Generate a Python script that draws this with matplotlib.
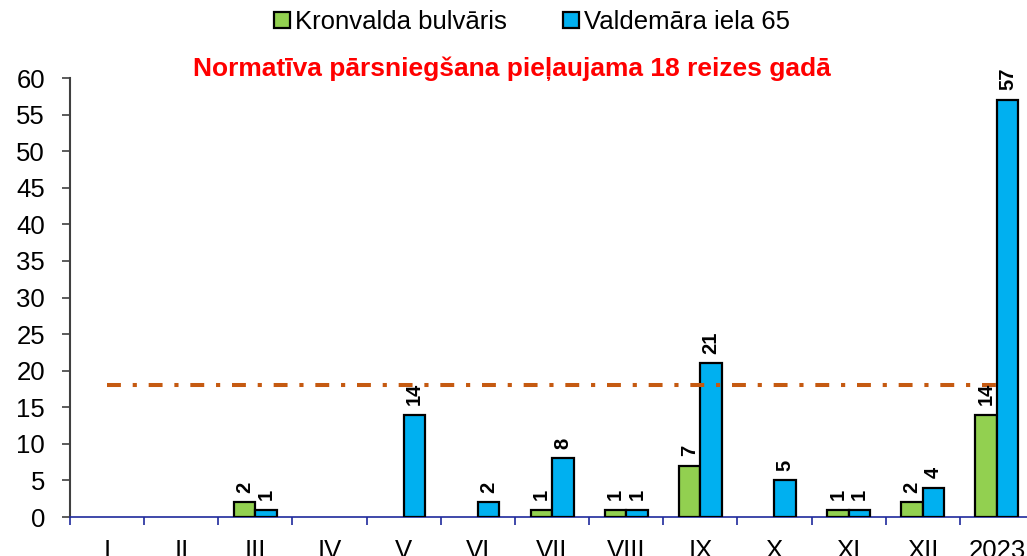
import matplotlib
matplotlib.use('Agg')
import matplotlib.pyplot as plt
from matplotlib.patches import Patch
import numpy as np

plt.rcParams['font.family'] = ['Liberation Sans', 'DejaVu Sans']
plt.rcParams['lines.scale_dashes'] = False

# months + year total
categories = ['I', 'II', 'III', 'IV', 'V', 'VI', 'VII', 'VIII', 'IX', 'X', 'XI', 'XII', '2023']
kronvalda = [0, 0, 2, 0, 0, 0, 1, 1, 7, 0, 1, 2, 14]
valdemara = [0, 0, 1, 0, 14, 2, 8, 1, 21, 5, 1, 4, 57]
limit = 18

green = '#92D050'
blue = '#00B0F0'

fig = plt.figure(figsize=(10.27, 5.56), dpi=100)
ax = fig.add_axes([0.0682, 0.0701, 0.9386, 0.7896])

x = np.arange(len(categories))
w = 0.29
b1 = ax.bar(x - w / 2, kronvalda, w, color=green, edgecolor='black', linewidth=1.6, zorder=3)
b2 = ax.bar(x + w / 2, valdemara, w, color=blue, edgecolor='black', linewidth=1.6, zorder=3)

# value labels, rotated, skip zeros (and hide the empty bars)
for bars, vals in ((b1, kronvalda), (b2, valdemara)):
    for rect, v in zip(bars, vals):
        if v == 0:
            rect.set_visible(False)
            continue
        ax.annotate(str(v), (rect.get_x() + rect.get_width() / 2, v),
                    xytext=(0, 7), textcoords='offset points',
                    ha='center', va='bottom', rotation=90,
                    fontsize=14.5, fontweight='bold', color='black', zorder=5)

# allowed exceedance line
ax.plot([x[0], x[-1]], [limit, limit], color='#C55A11', linewidth=2.9,
        dashes=(10, 8.5, 3, 8.5), solid_capstyle='butt', dash_capstyle='butt', zorder=4)

ax.set_xlim(-0.5, len(categories) - 0.5)
ax.set_ylim(0, 60)
ax.set_yticks(range(0, 61, 5))
ax.tick_params(axis='y', labelsize=18.5, length=6, width=1.2, color='#404040', pad=12)

ax.set_xticks(np.arange(-0.5, len(categories), 1))
ax.set_xticklabels([])
ax.set_xticks(x, minor=True)
ax.set_xticklabels(categories, minor=True)
ax.tick_params(axis='x', which='major', length=6, width=1.2, color='#1F2A9C')
ax.tick_params(axis='x', which='minor', length=0, labelsize=18.5, pad=16)

for s in ('top', 'right'):
    ax.spines[s].set_visible(False)
ax.spines['left'].set_color('#404040')
ax.spines['left'].set_linewidth(1.5)
ax.spines['bottom'].set_color('#1F2A9C')
ax.spines['bottom'].set_linewidth(1.2)

fig.text(0.498, 0.877, 'Normatīva pārsniegšana pieļaujama 18 reizes gadā',
         color='#FF0000', fontsize=19, fontweight='bold', ha='center', va='center')

handles = [Patch(facecolor=green, edgecolor='black', linewidth=1.6, label='Kronvalda bulvāris'),
           Patch(facecolor=blue, edgecolor='black', linewidth=1.6, label='Valdemāra iela 65')]
fig.legend(handles=handles, loc='center', bbox_to_anchor=(0.518, 0.96), ncol=2,
           frameon=False, fontsize=18.5, handlelength=0.6, handleheight=0.6,
           handletextpad=0.2, columnspacing=2.2)

fig.savefig('out.png', dpi=100)
